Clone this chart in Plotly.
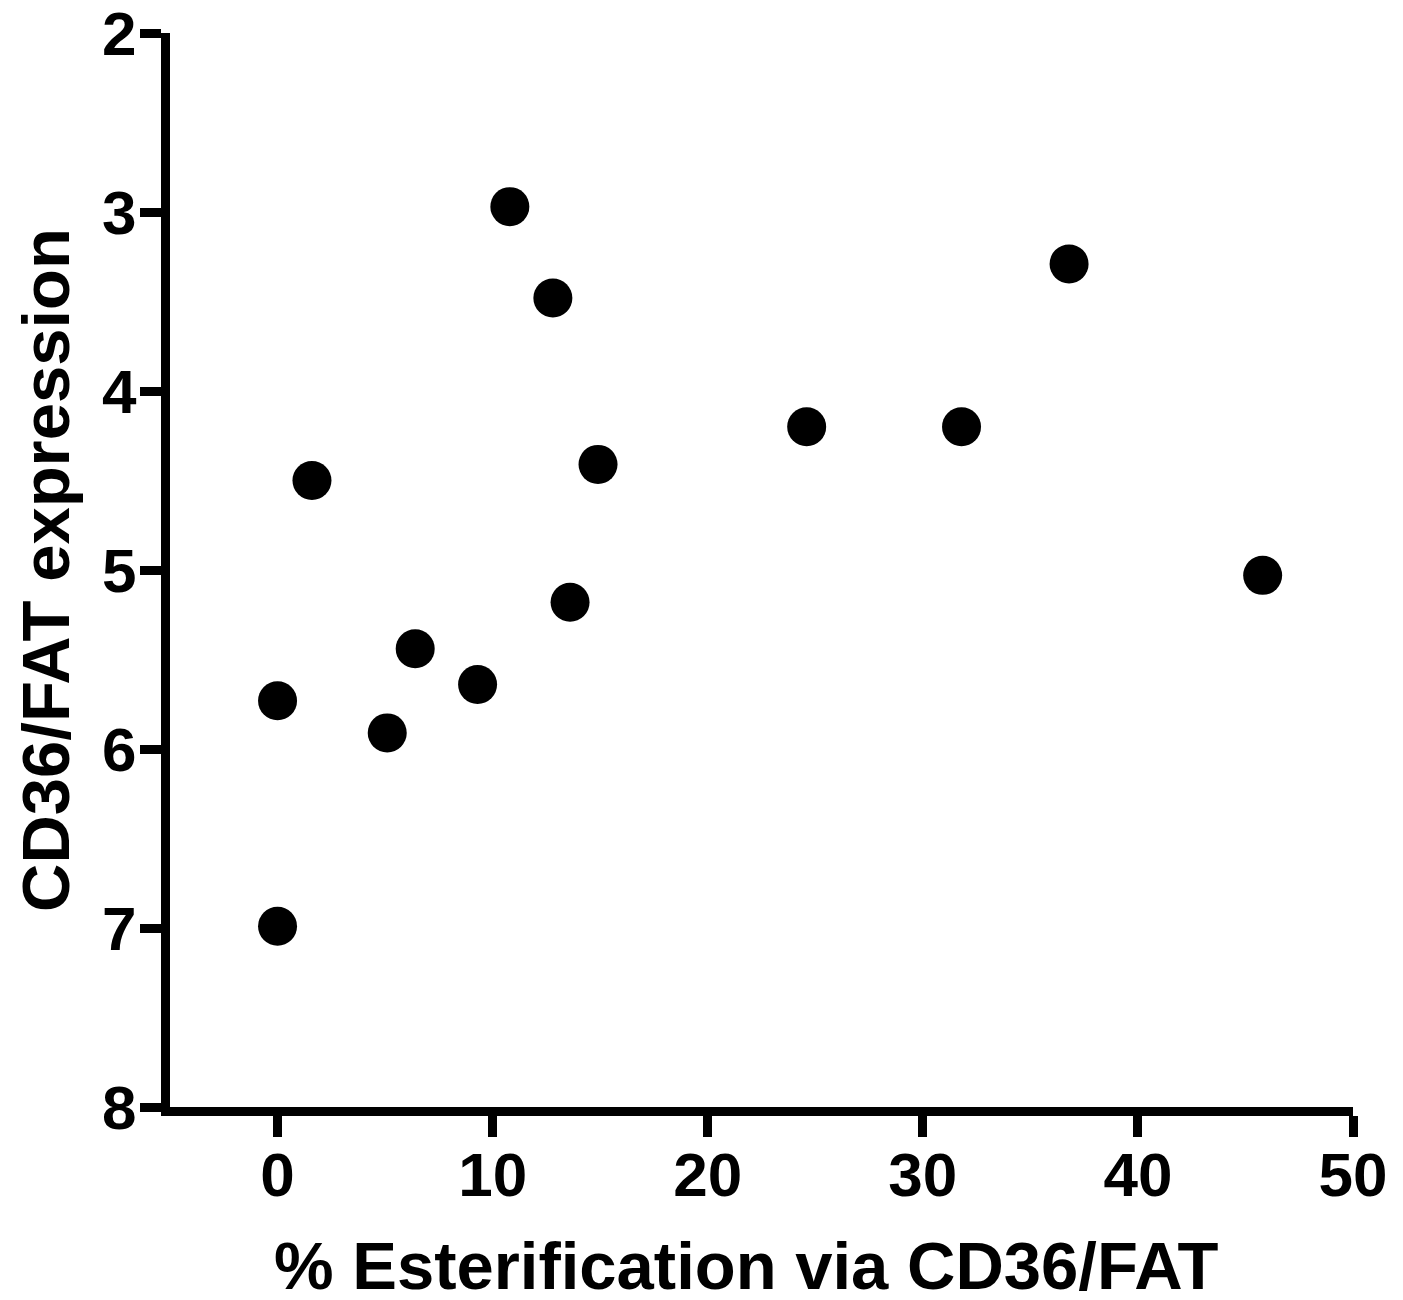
import plotly.graph_objects as go

esterification = [10.8, 12.8, 36.8, 24.6, 31.8, 14.9, 1.6, 45.8, 13.6, 6.4, 9.3, 0.0, 5.1, 0.0]
cd36_expression = [2.97, 3.48, 3.29, 4.20, 4.20, 4.41, 4.50, 5.03, 5.18, 5.44, 5.64, 5.73, 5.91, 6.99]

x_ticks = [0, 10, 20, 30, 40, 50]
y_ticks = [2, 3, 4, 5, 6, 7, 8]

x_title = "% Esterification via CD36/FAT"
y_title = "CD36/FAT expression"

font_family = "Liberation Sans, Arial, sans-serif"

fig = go.Figure()
fig.add_trace(go.Scatter(
    x=esterification, y=cd36_expression, mode="markers",
    marker=dict(color="black", size=39, line=dict(width=0)),
    showlegend=False, cliponaxis=False,
))

fig.add_annotation(
    text=x_title, xref="paper", yref="paper", x=0.487, y=0,
    xanchor="center", yanchor="middle", yshift=-158, showarrow=False,
    font=dict(size=67, family=font_family, weight="bold", color="black"),
)

fig.update_layout(
    width=1395, height=1292,
    margin=dict(l=162, r=50, t=25, b=193, autoexpand=False),
    paper_bgcolor="white", plot_bgcolor="white",
    font=dict(family=font_family, color="black", size=62, weight="bold"),
    xaxis=dict(
        range=[-5, 50], tickvals=x_ticks, ticktext=[str(v) for v in x_ticks],
        showgrid=False, zeroline=False, automargin=False,
        showline=True, linecolor="black", linewidth=9,
        ticks="outside", ticklen=21, tickwidth=9, tickcolor="black",
        ticklabelstandoff=-15, ticklabeloverflow="allow",
        tickfont=dict(size=62, family=font_family, weight="bold"),
    ),
    yaxis=dict(
        range=[8, 2], tickvals=y_ticks, ticktext=[str(v) for v in y_ticks],
        showgrid=False, zeroline=False, automargin=False,
        showline=True, linecolor="black", linewidth=9,
        ticks="outside", ticklen=21, tickwidth=9, tickcolor="black",
        ticklabelstandoff=-9, ticklabeloverflow="allow",
        tickfont=dict(size=62, family=font_family, weight="bold"),
        title=dict(text=y_title,
                   font=dict(size=67, family=font_family, weight="bold"), standoff=29),
    ),
)

fig.write_html("out.html")
